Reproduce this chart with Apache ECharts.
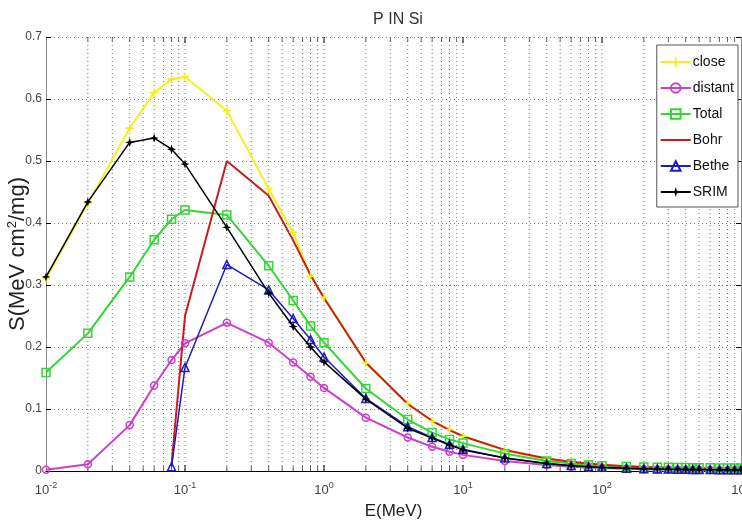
<!DOCTYPE html>
<html>
<head>
<meta charset="utf-8">
<script src="https://cdn.jsdelivr.net/npm/echarts@6/dist/echarts.min.js"></script>
<style>
  html, body { margin: 0; padding: 0; background: #fff; }
  #chart { width: 742px; height: 524px; }
</style>
</head>
<body>
<div id="chart"></div>
<script>
// Proton stopping power in silicon: energy grid (MeV) and S (MeV cm^2/mg) per model
const energies = [0.01, 0.02, 0.04, 0.06, 0.08, 0.1, 0.2, 0.4, 0.6, 0.8, 1, 2, 4, 6, 8, 10,
  20, 40, 60, 80, 100, 150, 200, 250, 300, 350, 400, 450, 500, 600, 700, 800, 900, 1000];

const closeVals = [0.310, 0.432, 0.553, 0.610, 0.632, 0.636, 0.581, 0.455, 0.385, 0.314, 0.280, 0.174, 0.109, 0.080, 0.067, 0.056,
  0.033, 0.019, 0.014, 0.011, 0.0095, 0.0075, 0.0062, 0.0055, 0.0050, 0.0046, 0.0043, 0.0041, 0.0039, 0.0036, 0.0034, 0.0032, 0.0031, 0.0030];

const distantVals = [0.002, 0.011, 0.074, 0.138, 0.179, 0.206, 0.239, 0.207, 0.175, 0.152, 0.134, 0.086, 0.054, 0.039, 0.031, 0.026,
  0.016, 0.0095, 0.0070, 0.0057, 0.0048, 0.0036, 0.0030, 0.0026, 0.0023, 0.0021, 0.0019, 0.0018, 0.0017, 0.0015, 0.0014, 0.0013, 0.0012, 0.0011];

const totalVals = [0.159, 0.222, 0.313, 0.373, 0.406, 0.421, 0.413, 0.331, 0.275, 0.234, 0.207, 0.133, 0.083, 0.062, 0.051, 0.045,
  0.028, 0.016, 0.012, 0.0098, 0.0085, 0.0072, 0.0066, 0.0062, 0.0059, 0.0057, 0.0055, 0.0054, 0.0053, 0.0051, 0.0050, 0.0049, 0.0048, 0.0047];

const bohrVals = [null, null, null, null, 0.010, 0.250, 0.500, 0.444, 0.372, 0.316, 0.279, 0.175, 0.108, 0.081, 0.066, 0.056,
  0.034, 0.020, 0.015, 0.012, 0.0102, 0.0078, 0.0064, 0.0056, 0.0050, 0.0046, 0.0043, 0.0040, 0.0038, 0.0035, 0.0033, 0.0031, 0.0030, 0.0029];

const betheVals = [null, null, null, null, 0.007, 0.167, 0.333, 0.292, 0.246, 0.212, 0.184, 0.117, 0.0715, 0.054, 0.043, 0.035,
  0.021, 0.012, 0.0088, 0.0070, 0.0059, 0.0045, 0.0038, 0.0034, 0.0031, 0.0029, 0.0027, 0.0026, 0.0025, 0.0023, 0.0022, 0.0021, 0.0020, 0.0020];

const srimVals = [0.313, 0.434, 0.530, 0.537, 0.519, 0.495, 0.393, 0.287, 0.233, 0.200, 0.176, 0.116, 0.069, 0.053, 0.042, 0.034,
  0.021, 0.012, 0.0086, 0.0068, 0.0058, 0.0044, 0.0037, 0.0033, 0.0030, 0.0028, 0.0026, 0.0025, 0.0024, 0.0022, 0.0021, 0.0020, 0.0019, 0.0019];

const seriesNames = ['close', 'distant', 'Total', 'Bohr', 'Bethe', 'SRIM'];
const yTickLabels = ['0', '0.1', '0.2', '0.3', '0.4', '0.5', '0.6', '0.7'];
const xTickExponents = { '0.01': '-2', '0.1': '-1', '1': '0', '10': '1', '100': '2', '1000': '3' };

const pairs = vals => energies.map((e, i) => [e, vals[i]]);

// log-decade grid positions (1..9 x 10^k) for the dotted grid and tick marks
const gridX = [];
for (let k = -2; k <= 2; k++) {
  for (let m = 1; m <= 9; m++) {
    const v = +(m * Math.pow(10, k)).toPrecision(3);
    if (v > 0.01 && v < 1000) gridX.push([v, m === 1 ? 1 : 0]);
  }
}

const sans = "'Liberation Sans', Arial, sans-serif";

const hollow = (c) => ({ color: 'transparent', borderColor: c, borderWidth: 1.5 });

const chart = echarts.init(document.getElementById('chart'), null, { renderer: 'canvas' });

chart.setOption({
  animation: false,
  backgroundColor: '#fff',
  title: {
    text: 'P IN Si',
    left: 393, top: 7, textAlign: 'center',
    textStyle: { fontFamily: sans, fontSize: 16, fontWeight: 'normal', color: '#333' }
  },
  grid: { left: 46, right: 1, top: 37, bottom: 53, containLabel: false, outerBoundsMode: 'none' },
  legend: {
    data: seriesNames,
    orient: 'vertical',
    right: 4, top: 45,
    backgroundColor: '#fff',
    borderColor: '#555', borderWidth: 1, borderRadius: 0,
    padding: [10, 4, 8, 3],
    itemWidth: 30, itemHeight: 12, itemGap: 12,
    textStyle: { fontFamily: sans, fontSize: 14, color: '#111', padding: [0, 0, 0, -3] }
  },
  xAxis: [{
    type: 'log', logBase: 10, min: 0.01, max: 1000,
    name: 'E(MeV)', nameLocation: 'middle', nameGap: 32, nameMoveOverlap: false,
    nameTextStyle: { fontFamily: sans, fontSize: 17, color: '#222' },
    axisLine: { lineStyle: { color: '#000', width: 1 } },
    axisTick: { show: false },
    splitLine: { show: false },
    axisLabel: {
      margin: 10,
      formatter: v => {
        const key = String(+v.toPrecision(3));
        return '{b|10}{s|' + (xTickExponents[key] || '') + '}';
      },
      rich: {
        b: { fontFamily: sans, fontSize: 13, color: '#444' },
        s: { fontFamily: sans, fontSize: 9, color: '#444', padding: [0, 0, 9, 0] }
      }
    }
  }, {
    type: 'log', logBase: 10, min: 0.01, max: 1000, position: 'top',
    axisLine: { lineStyle: { color: '#000', width: 1 } },
    axisTick: { show: false },
    axisLabel: { show: false },
    splitLine: { show: false }
  }],
  yAxis: [{
    type: 'value', min: 0, max: 0.7, interval: 0.1,
    name: '{a|S(MeV cm}{s|2}{a|/mg)}', nameLocation: 'middle', nameGap: 16, nameRotate: 90,
    nameMoveOverlap: false,
    nameTextStyle: {
      rich: {
        a: { fontFamily: sans, fontSize: 22, color: '#222' },
        s: { fontFamily: sans, fontSize: 13, color: '#222', padding: [0, 0, 11, 0] }
      }
    },
    axisLine: { show: true, lineStyle: { color: '#888', width: 1 } },
    axisTick: { show: true, inside: true, length: 5, lineStyle: { color: '#000' } },
    axisLabel: {
      margin: 4,
      fontFamily: sans, fontSize: 12, color: '#444',
      formatter: v => yTickLabels[Math.round(v * 10)]
    },
    splitLine: { show: true, lineStyle: { color: '#777', type: [1, 3], width: 1 } }
  }, {
    type: 'value', min: 0, max: 0.7, interval: 0.1, position: 'right',
    axisLine: { show: true, lineStyle: { color: '#888', width: 1 } },
    axisTick: { show: true, inside: true, length: 5, lineStyle: { color: '#000' } },
    axisLabel: { show: false },
    splitLine: { show: false }
  }],
  series: [
    {
      // dotted log grid with inside tick marks on bottom and top edges
      type: 'custom', silent: true, z: 1,
      data: gridX,
      encode: { x: 0 },
      renderItem: (params, api) => {
        const x = api.value(0);
        const major = api.value(1) === 1;
        const top = api.coord([x, 0.7]);
        const bot = api.coord([x, 0]);
        const len = major ? 6 : 5;
        return {
          type: 'group',
          children: [
            { type: 'line', shape: { x1: top[0], y1: top[1], x2: bot[0], y2: bot[1] },
              style: { stroke: '#777', lineWidth: 1, lineDash: [1, 3] } },
            { type: 'line', shape: { x1: bot[0], y1: bot[1], x2: bot[0], y2: bot[1] - len },
              style: { stroke: major ? '#000' : '#666', lineWidth: 1 } },
            { type: 'line', shape: { x1: top[0], y1: top[1], x2: top[0], y2: top[1] + len },
              style: { stroke: major ? '#000' : '#666', lineWidth: 1 } }
          ]
        };
      }
    },
    {
      name: 'close', type: 'line', data: pairs(closeVals), z: 3,
      symbol: 'path://M4,0H6V4H10V6H6V10H4V6H0V4H4Z', symbolSize: 8,
      itemStyle: { color: '#f4f020' },
      lineStyle: { color: '#f4f020', width: 2 }
    },
    {
      name: 'distant', type: 'line', data: pairs(distantVals), z: 3,
      symbol: 'circle', symbolSize: 7,
      itemStyle: hollow('#cc3fcc'),
      lineStyle: { color: '#cc3fcc', width: 2 }
    },
    {
      name: 'Total', type: 'line', data: pairs(totalVals), z: 3,
      symbol: 'rect', symbolSize: 8,
      itemStyle: hollow('#33d633'),
      lineStyle: { color: '#33d633', width: 2 }
    },
    {
      name: 'Bohr', type: 'line', data: pairs(bohrVals), z: 3,
      showSymbol: false, symbol: 'none', connectNulls: false,
      itemStyle: { color: 'transparent', borderWidth: 0 },
      lineStyle: { color: '#c81e1e', width: 2 }
    },
    {
      name: 'Bethe', type: 'line', data: pairs(betheVals), z: 3,
      symbol: 'triangle', symbolSize: 8,
      itemStyle: hollow('#1c1cc0'),
      lineStyle: { color: '#1c1cc0', width: 1.5 }
    },
    {
      name: 'SRIM', type: 'line', data: pairs(srimVals), z: 4,
      symbol: 'path://M5,0L6.3,3.7L10,5L6.3,6.3L5,10L3.7,6.3L0,5L3.7,3.7Z', symbolSize: 9,
      itemStyle: { color: '#000' },
      lineStyle: { color: '#000', width: 1.5 }
    }
  ]
});
</script>
</body>
</html>
